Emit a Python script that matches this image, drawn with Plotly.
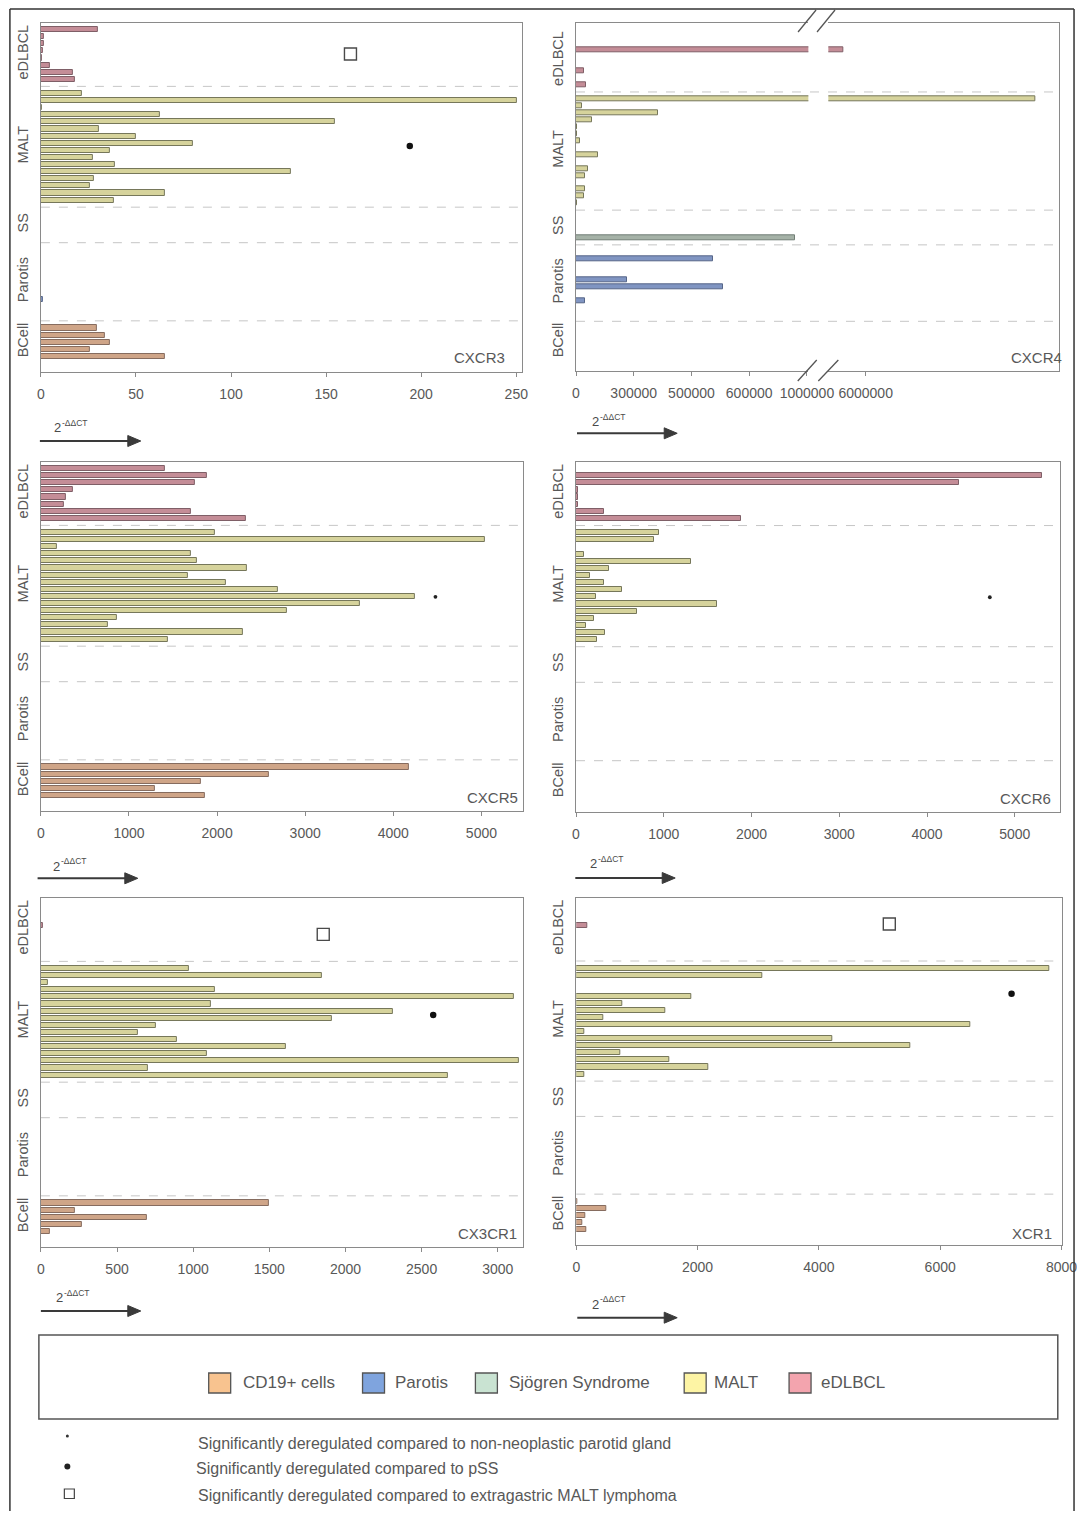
import plotly.graph_objects as go

# layout geometry: target pixel positions are converted to paper fractions.
# the capture maps page x -> 3.3 + 0.9736 * x (measured), page y -> y; body margin is 8px.
OFF = 8
SX_A, SX_B = 3.3, 0.9736
W, H = 1093, 1503
FONT = "Liberation Sans, Arial, sans-serif"
TXT = "#585858"

# ---------------- data ----------------
GROUPS = ["eDLBCL", "MALT", "SS", "Parotis", "BCell"]
GROUP_SLOTS = [8, 16, 4, 10, 5]

CXCR3_eDLBCL = [30.1, 1.8, 1.4, 1.0, 0.5, 4.9, 17.0, 18.0]
CXCR3_MALT = [21.4, 250.4, 0.4, 62.5, 154.4, 30.3, 50.2, 79.7, 36.4, 27.1, 39.0, 131.3, 27.7, 25.7, 65.1, 38.5]
CXCR3_SS = [None, None, None, None]
CXCR3_Parotis = [None, None, None, None, None, None, None, 0.9, None, None]
CXCR3_BCell = [29.2, 33.6, 36.4, 25.9, 65.1]

CXCR4_eDLBCL = [None, None, 5612000, None, None, 26000, None, 34000]
CXCR4_MALT = [8946000, 20700, 283000, 56000, 2500, 4000, 15000, None, 77000, None, 43000, 32000, None, 32000, 26000, 3000]
CXCR4_SS = [None, None, None, 759000]
CXCR4_Parotis = [None, 476000, None, None, 176000, 508600, None, 32000, None, None]
CXCR4_BCell = [None, None, None, None, None]

CXCR5_eDLBCL = [1406, 1882, 1746, 359, 283, 265, 1701, 2325]
CXCR5_MALT = [1977, 5034, 178, 1701, 1765, 2343, 1674, 2105, 2695, 4241, 3621, 2789, 858, 756, 2287, 1436]
CXCR5_SS = [None, None, None, None]
CXCR5_Parotis = [None, None, None, None, None, None, None, None, None, None]
CXCR5_BCell = [4176, 2582, 1814, 1293, 1860]

CXCR6_eDLBCL = [None, 5311, 4366, 23, 23, 19, 315, 1878]
CXCR6_MALT = [941, 884, None, 87, 1313, 372, 163, 315, 524, 231, 1605, 694, 201, 114, 334, 239]
CXCR6_SS = [None, None, None, None]
CXCR6_Parotis = [None, None, None, None, None, None, None, None, None, None]
CXCR6_BCell = [None, None, None, None, None]

CX3CR1_eDLBCL = [None, None, None, 15, None, None, None, None]
CX3CR1_MALT = [973, 1848, 48, 1141, 3105, 1115, 2314, 1913, 754, 634, 890, 1609, 1093, 3136, 704, 2674]
CX3CR1_SS = [None, None, None, None]
CX3CR1_Parotis = [None, None, None, None, None, None, None, None, None, None]
CX3CR1_BCell = [1494, 225, 695, 267, 59]

XCR1_eDLBCL = [None, None, None, 176, None, None, None, None]
XCR1_MALT = [7798, 3070, None, None, 1889, 752, 1466, 439, 6502, 132, 4228, 5502, 725, 1532, 2180, 132]
XCR1_SS = [None, None, None, None]
XCR1_Parotis = [None, None, None, None, None, None, None, None, None, None]
XCR1_BCell = [22, 489, 148, 104, 165]

# significance markers (value, row)
CXCR3_SIG_KIND = ["square", "dot"]
CXCR3_SIG_X = [162.8, 194]
CXCR3_SIG_ROW = [3.45, 16.4]
CXCR5_SIG_KIND = ["small"]
CXCR5_SIG_X = [4478]
CXCR5_SIG_ROW = [18.06]
CXCR6_SIG_KIND = ["small"]
CXCR6_SIG_X = [4715]
CXCR6_SIG_ROW = [18.06]
CX3CR1_SIG_KIND = ["square", "dot"]
CX3CR1_SIG_X = [1854, 2576]
CX3CR1_SIG_ROW = [4.2, 15.56]
XCR1_SIG_KIND = ["square", "dot"]
XCR1_SIG_X = [5161, 7177]
XCR1_SIG_ROW = [2.75, 12.65]

CXCR3_TICKS = [0, 50, 100, 150, 200, 250]
CXCR4_TICKS_LOW = [0, 200000, 400000, 600000, 800000]
CXCR4_TICKTEXT_LOW = ["0", "300000", "500000", "600000", "1000000"]
CXCR4_TICKS_HIGH = [6000000]
CXCR4_TICKTEXT_HIGH = ["6000000"]
CXCR5_TICKS = [0, 1000, 2000, 3000, 4000, 5000]
CXCR6_TICKS = [0, 1000, 2000, 3000, 4000, 5000]
CX3CR1_TICKS = [0, 500, 1000, 1500, 2000, 2500, 3000]
XCR1_TICKS = [0, 2000, 4000, 6000, 8000]

LEGEND_LABELS = ["CD19+ cells", "Parotis", "Sjögren Syndrome", "MALT", "eDLBCL"]
SIG_NOTES = ["Significantly deregulated compared to non-neoplastic parotid gland",
             "Significantly deregulated compared to pSS",
             "Significantly deregulated compared to extragastric MALT lymphoma"]

# ---------------- styling ----------------
FILL = {"eDLBCL": "#c48d97", "MALT": "#d6d39c", "SS": "#a5b2a7", "Parotis": "#8095c2", "BCell": "#cfa588"}
EDGE = {"eDLBCL": "#7f5f67", "MALT": "#76775a", "SS": "#717e75", "Parotis": "#566688", "BCell": "#866c5f"}
LEG_FILL = ["#f8c38f", "#7fa4de", "#c9e3d2", "#fdf4a4", "#f3a4ae"]

starts = []
s = 0
for n in GROUP_SLOTS:
    starts.append(s)
    s += n + 1
dividers = [st - 1 for st in starts[1:]]
centers = [st + (n - 1) / 2 for st, n in zip(starts, GROUP_SLOTS)]


def fx(px):
    return ((px - SX_A) / SX_B - OFF) / W


def fy(py):
    return 1 - (py - OFF) / H


fig = go.Figure()
shapes = []
annotations = []

AXLINE = "#8a8a8a"


def xaxis_cfg(xd, xr, ticks, ticktext=None, anchor="y", mirror=True):
    d = dict(domain=[fx(xd[0]), fx(xd[1])], range=xr, tickvals=ticks, anchor=anchor,
             ticks="outside", ticklen=4, tickcolor=AXLINE, tickwidth=1,
             tickfont=dict(size=14, color=TXT, family=FONT), ticklabelstandoff=5,
             showline=True, linecolor=AXLINE, linewidth=1.3, mirror=mirror,
             showgrid=False, zeroline=False, fixedrange=True)
    if ticktext is not None:
        d["ticktext"] = ticktext
    return d


def yaxis_cfg(yd, yr, anchor, mirror=True, labels=True, side="left"):
    d = dict(domain=[fy(yd[1]), fy(yd[0])], range=yr, anchor=anchor, side=side,
             tickangle=-90, ticks="", tickfont=dict(size=14.5, color=TXT, family=FONT),
             ticklabelstandoff=6, showticklabels=labels,
             showline=True, linecolor=AXLINE, linewidth=1.3, mirror=mirror,
             showgrid=False, zeroline=False, fixedrange=True)
    if labels:
        d["tickvals"] = centers
        d["ticktext"] = GROUPS
    return d


def add_bars(lists, xa, ya):
    for gi, (g, vals) in enumerate(zip(GROUPS, lists)):
        ys = [starts[gi] + i for i, v in enumerate(vals) if v is not None]
        xs = [v for v in vals if v is not None]
        if xs:
            fig.add_trace(go.Bar(x=xs, y=ys, orientation="h", width=0.72, base=0,
                                 marker=dict(color=FILL[g], line=dict(color=EDGE[g], width=1)),
                                 xaxis=xa, yaxis=ya, showlegend=False, hoverinfo="skip"))


def add_sig(kinds, xs, rows, xa, ya):
    sty = {"square": dict(symbol="square-open", size=12, color="#4a4a4a", line=dict(width=1.4, color="#4a4a4a")),
           "dot": dict(symbol="circle", size=6.5, color="#111111"),
           "small": dict(symbol="circle", size=3.8, color="#222222")}
    for k, x, r in zip(kinds, xs, rows):
        fig.add_trace(go.Scatter(x=[x], y=[r], mode="markers", marker=sty[k], xaxis=xa, yaxis=ya,
                                 showlegend=False, hoverinfo="skip"))


def add_dividers(xref, x0, x1, ya):
    for k in dividers:
        shapes.append(dict(type="line", xref=xref, x0=x0, x1=x1, yref=ya, y0=k, y1=k,
                           line=dict(color="#c6c6c6", width=1, dash="dash"), layer="below"))


YR = [48.2, -0.92]
layout_axes = {}

panels = [
    ("CXCR3", [CXCR3_eDLBCL, CXCR3_MALT, CXCR3_SS, CXCR3_Parotis, CXCR3_BCell], "", (40, 522), (23, 372), [0, 253.2], CXCR3_TICKS,
     (CXCR3_SIG_KIND, CXCR3_SIG_X, CXCR3_SIG_ROW), (479.5, 357.5), (51, 427.5), (39, 140, 441)),
    ("CXCR5", [CXCR5_eDLBCL, CXCR5_MALT, CXCR5_SS, CXCR5_Parotis, CXCR5_BCell], "4", (40, 523), (462, 811), [0, 5476], CXCR5_TICKS,
     (CXCR5_SIG_KIND, CXCR5_SIG_X, CXCR5_SIG_ROW), (492.5, 797.5), (50, 866), (36.7, 137, 878.3)),
    ("CXCR6", [CXCR6_eDLBCL, CXCR6_MALT, CXCR6_SS, CXCR6_Parotis, CXCR6_BCell], "5", (575.7, 1060), (462, 812), [0, 5512], CXCR6_TICKS,
     (CXCR6_SIG_KIND, CXCR6_SIG_X, CXCR6_SIG_ROW), (1025.8, 798), (588, 864), (575, 675, 878)),
    ("CX3CR1", [CX3CR1_eDLBCL, CX3CR1_MALT, CX3CR1_SS, CX3CR1_Parotis, CX3CR1_BCell], "6", (40, 523), (898, 1247), [0, 3168], CX3CR1_TICKS,
     (CX3CR1_SIG_KIND, CX3CR1_SIG_X, CX3CR1_SIG_ROW), (486.7, 1233.3), (53, 1297.5), (40, 140, 1311)),
    ("XCR1", [XCR1_eDLBCL, XCR1_MALT, XCR1_SS, XCR1_Parotis, XCR1_BCell], "7", (576, 1062), (898, 1245), [0, 8005], XCR1_TICKS,
     (XCR1_SIG_KIND, XCR1_SIG_X, XCR1_SIG_ROW), (1032.5, 1233.3), (590, 1304), (577, 677, 1317.7)),
]

ARROW_COL = "#3a3a3a"


def add_arrow_and_label(lab, arr):
    annotations.append(dict(xref="paper", yref="paper", x=fx(lab[0]), y=fy(lab[1]), xanchor="left", yanchor="middle",
                            text="2", showarrow=False, font=dict(size=13, color="#4a4a4a", family=FONT)))
    annotations.append(dict(xref="paper", yref="paper", x=fx(lab[0] + 8), y=fy(lab[1] - 5), xanchor="left", yanchor="middle",
                            text="-ΔΔCT", showarrow=False, font=dict(size=8.5, color="#4a4a4a", family=FONT)))
    x0, x1, yy = arr
    shapes.append(dict(type="line", xref="paper", yref="paper", x0=fx(x0), x1=fx(x1 - 10), y0=fy(yy), y1=fy(yy),
                       line=dict(color=ARROW_COL, width=2)))
    path = "M {} {} L {} {} L {} {} Z".format(fx(x1 - 13), fy(yy - 5.5), fx(x1), fy(yy), fx(x1 - 13), fy(yy + 5.5))
    shapes.append(dict(type="path", xref="paper", yref="paper", path=path, fillcolor=ARROW_COL,
                       line=dict(color=ARROW_COL, width=1)))


for gene, lists, suf, xd, yd, xr, ticks, sig, glab, lab, arr in panels:
    xa, ya = "x" + suf, "y" + suf
    layout_axes["xaxis" + suf] = xaxis_cfg(xd, xr, ticks, anchor=ya)
    layout_axes["yaxis" + suf] = yaxis_cfg(yd, YR, anchor=xa)
    add_bars(lists, xa, ya)
    add_sig(*sig, xa, ya)
    add_dividers(xa + " domain", 0, 1, ya)
    annotations.append(dict(xref="paper", yref="paper", x=fx(glab[0]), y=fy(glab[1]), xanchor="center", yanchor="middle",
                            text=gene, showarrow=False, font=dict(size=15, color=TXT, family=FONT)))
    add_arrow_and_label(lab, arr)

# CXCR4 broken axis panel
YR2 = [48.15, -1.88]
yd2 = (23.3, 371)
cx4 = [CXCR4_eDLBCL, CXCR4_MALT, CXCR4_SS, CXCR4_Parotis, CXCR4_BCell]
layout_axes["xaxis2"] = xaxis_cfg((575.7, 808.3), [0, 805000], CXCR4_TICKS_LOW, CXCR4_TICKTEXT_LOW, anchor="y2")
layout_axes["yaxis2"] = yaxis_cfg(yd2, YR2, anchor="x2", mirror=False)
layout_axes["xaxis3"] = xaxis_cfg((828.3, 1059), [5353000, 9344000], CXCR4_TICKS_HIGH, CXCR4_TICKTEXT_HIGH, anchor="y3")
layout_axes["yaxis3"] = yaxis_cfg(yd2, YR2, anchor="x3", mirror=False, labels=False, side="right")
add_bars(cx4, "x2", "y2")
add_bars(cx4, "x3", "y3")
add_dividers("paper", fx(575.7), fx(1059), "y2")
annotations.append(dict(xref="paper", yref="paper", x=fx(1036.7), y=fy(357.5), xanchor="center", yanchor="middle",
                        text="CXCR4", showarrow=False, font=dict(size=15, color=TXT, family=FONT)))
add_arrow_and_label((590, 422), (576.7, 677, 433.3))
for (x0, y0, x1, y1) in [(798, 32, 816, 10), (817, 32, 835, 10), (797.7, 381, 816.7, 360), (818.3, 381, 838.3, 360)]:
    shapes.append(dict(type="line", xref="paper", yref="paper", x0=fx(x0), y0=fy(y0), x1=fx(x1), y1=fy(y1),
                       line=dict(color="#555555", width=1.3)))

# ---------------- legend ----------------
shapes.append(dict(type="rect", xref="paper", yref="paper", x0=fx(38), x1=fx(1058), y0=fy(1419), y1=fy(1335),
                   line=dict(color="#555555", width=1.5), fillcolor="rgba(0,0,0,0)"))
sw_x = [208, 362, 475, 684, 789]
tx_x = [240, 392, 507, 712, 819]
for lbl, col, sx, tx in zip(LEGEND_LABELS, LEG_FILL, sw_x, tx_x):
    shapes.append(dict(type="rect", xref="paper", yref="paper", x0=fx(sx), x1=fx(sx + 22), y0=fy(1393), y1=fy(1373),
                       line=dict(color="#555555", width=1.3), fillcolor=col))
    annotations.append(dict(xref="paper", yref="paper", x=fx(tx), y=fy(1382), xanchor="left", yanchor="middle",
                            text=lbl, showarrow=False, font=dict(size=17, color=TXT, family=FONT)))

shapes.append(dict(type="circle", xref="paper", yref="paper", x0=fx(65), x1=fx(68), y0=fy(1437.5), y1=fy(1434.5),
                   fillcolor="#333333", line=dict(width=0)))
shapes.append(dict(type="circle", xref="paper", yref="paper", x0=fx(63.5), x1=fx(69.5), y0=fy(1469.5), y1=fy(1463.5),
                   fillcolor="#222222", line=dict(width=0)))
shapes.append(dict(type="rect", xref="paper", yref="paper", x0=fx(63.5), x1=fx(73.5), y0=fy(1498.5), y1=fy(1489),
                   fillcolor="rgba(0,0,0,0)", line=dict(color="#444444", width=1.2)))
for note, yy, xx in zip(SIG_NOTES, [1443, 1468, 1495], [195, 193, 195]):
    annotations.append(dict(xref="paper", yref="paper", x=fx(xx), y=fy(yy), xanchor="left", yanchor="middle",
                            text=note, showarrow=False, font=dict(size=16, color=TXT, family=FONT)))

# outer frame (left, top, right)
RIGHT = SX_A + SX_B * (OFF + W - 1)
for (x0, y0, x1, y1) in [(9, 9, 9, 1511), (9, 9, RIGHT, 9), (RIGHT, 9, RIGHT, 1511)]:
    shapes.append(dict(type="line", xref="paper", yref="paper", x0=fx(x0), y0=fy(y0), x1=fx(x1), y1=fy(y1),
                       line=dict(color="#333333", width=1.5)))

fig.update_layout(width=W, height=H, margin=dict(l=0, r=0, t=0, b=0), autosize=False,
                  paper_bgcolor="white", plot_bgcolor="white", barmode="overlay", bargap=0,
                  showlegend=False, shapes=shapes, annotations=annotations,
                  font=dict(family=FONT, color=TXT), **layout_axes)

fig.write_html("out.html")
